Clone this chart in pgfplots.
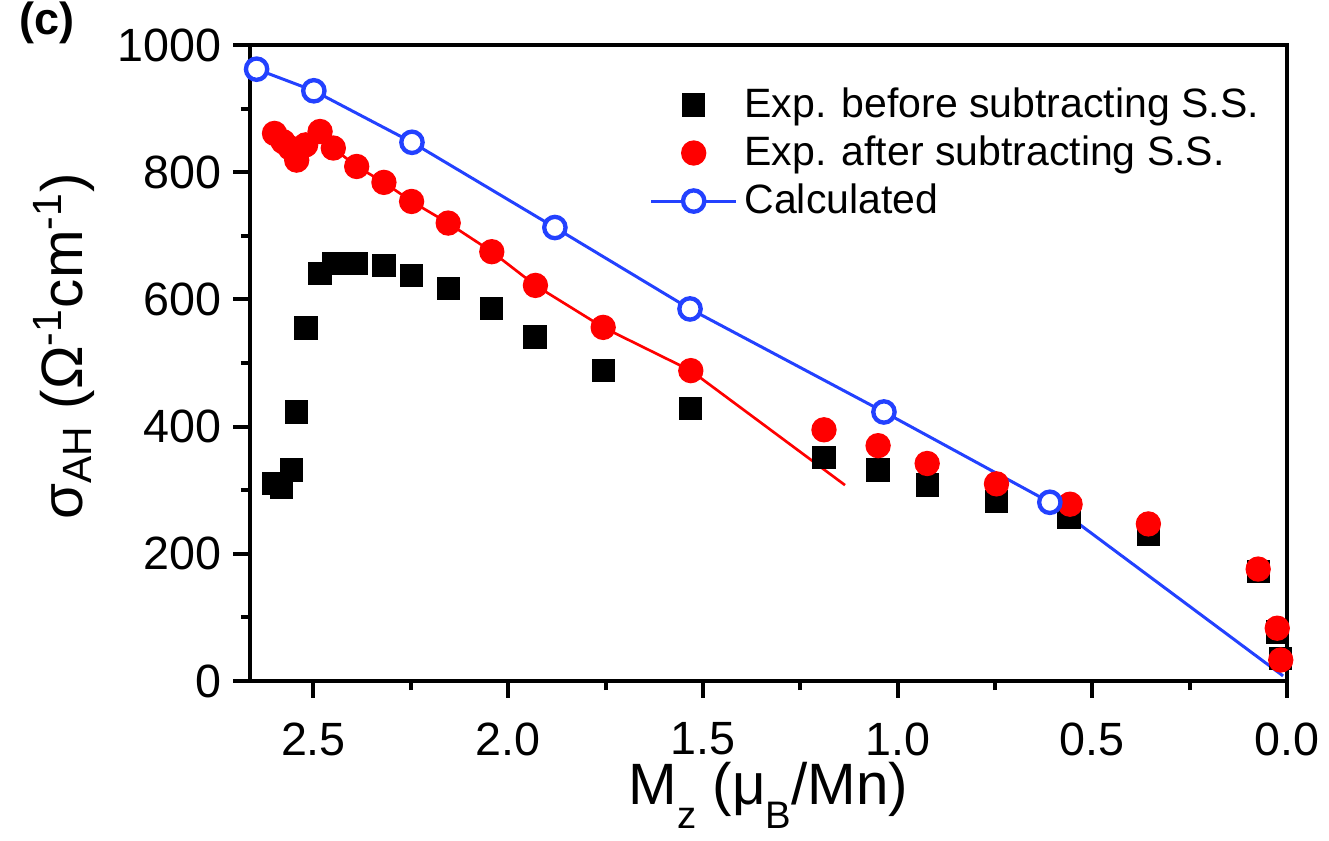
\documentclass[border=0pt]{standalone}
\usepackage{fontspec}
\setmainfont{Liberation Sans}
\usepackage{pgfplots}
\pgfplotsset{compat=1.18}
\definecolor{calcblue}{RGB}{35,65,255}
\newcommand{\lowsub}[1]{\raisebox{-0.42em}{\fontsize{11.5}{12}\selectfont #1}}

\begin{document}
\begin{tikzpicture}
\useasboundingbox (-75pt,-47.7pt) rectangle (323.7pt,204.3pt);
\begin{axis}[
    scale only axis, width=311.1pt, height=190.8pt,
    x dir=reverse, xmin=0, xmax=2.663, ymin=0, ymax=1000,
    xtick={0,0.5,...,2.5}, ytick={0,200,...,1000},
    minor x tick num=1, minor y tick num=1,
    xtick pos=bottom, ytick pos=left, tick align=outside,
    major tick length=5pt, minor tick length=2.7pt,
    axis line style={line width=1.2pt},
    tick style={line width=1.2pt, black},
    /pgf/number format/assume math mode=true,
    /pgf/number format/1000 sep={},
    tick label style={font=\fontsize{14}{16}\selectfont},
    xticklabel style={yshift=-4pt, /pgf/number format/.cd, fixed, fixed zerofill, precision=1},
    yticklabel style={/pgf/number format/.cd, fixed, precision=0},
    label style={font=\fontsize{17.5}{20}\selectfont},
    xlabel={M\lowsub{z} (μ\lowsub{B}/Mn)},
    xlabel style={yshift=5pt},
    ylabel={σ\textsubscript{AH} (Ω\textsuperscript{-1}cm\textsuperscript{-1})},
    ylabel style={xshift=5pt},
    legend style={draw=none, fill=none, at={(0.375,0.955)}, anchor=north west,
        font=\fontsize{12.3}{14.4}\selectfont, cells={anchor=west}},
    legend image code/.code={\draw[mark indices={2}] plot coordinates {(0cm,0cm) (0.45cm,0cm) (0.9cm,0cm)};},
]
% before subtracting S.S.
\addplot[only marks, mark=square*, mark size=3.3pt, color=black] coordinates {
(2.603,311) (2.582,305) (2.556,332) (2.543,423) (2.519,555) (2.483,641)
(2.449,656) (2.389,656) (2.319,653) (2.248,638) (2.154,617) (2.042,586)
(1.931,541) (1.756,488) (1.531,428) (1.189,351) (1.050,332) (0.924,308)
(0.746,282) (0.560,257) (0.356,231) (0.074,172) (0.025,77) (0.016,35)
};
% red guide line
\addplot[red, line width=0.8pt, forget plot] coordinates {
(2.600,861) (2.578,848) (2.560,838) (2.543,819) (2.520,843) (2.483,864)
(2.449,838) (2.389,809) (2.319,784) (2.248,754) (2.154,720) (2.042,675)
(1.930,622) (1.756,556) (1.531,488) (1.135,308)
};
% after subtracting S.S.
\addplot[only marks, mark=*, mark size=3.6pt, color=red] coordinates {
(2.600,861) (2.578,848) (2.560,838) (2.543,819) (2.520,843) (2.483,864)
(2.449,838) (2.389,809) (2.319,784) (2.248,754) (2.154,720) (2.042,675)
(1.930,622) (1.756,556) (1.531,488) (1.189,395) (1.050,370) (0.924,342)
(0.746,310) (0.557,278) (0.356,247) (0.074,176) (0.025,83) (0.016,33)
};
% calculated
\addplot[calcblue, line width=0.9pt, mark=*, mark size=3.2pt,
    mark options={line width=1.3pt, fill=white, draw=calcblue}, mark indices={1,...,7}] coordinates {
(2.646,962) (2.499,928) (2.247,847) (1.880,713) (1.533,585) (1.035,423)
(0.609,281) (0.010,8)
};
\legend{Exp. before subtracting S.S., Exp. after subtracting S.S., Calculated}
\end{axis}
\node[font=\bfseries\fontsize{13.5}{15}\selectfont] at (-60.9pt,197.4pt) {(c)};
\end{tikzpicture}
\end{document}
